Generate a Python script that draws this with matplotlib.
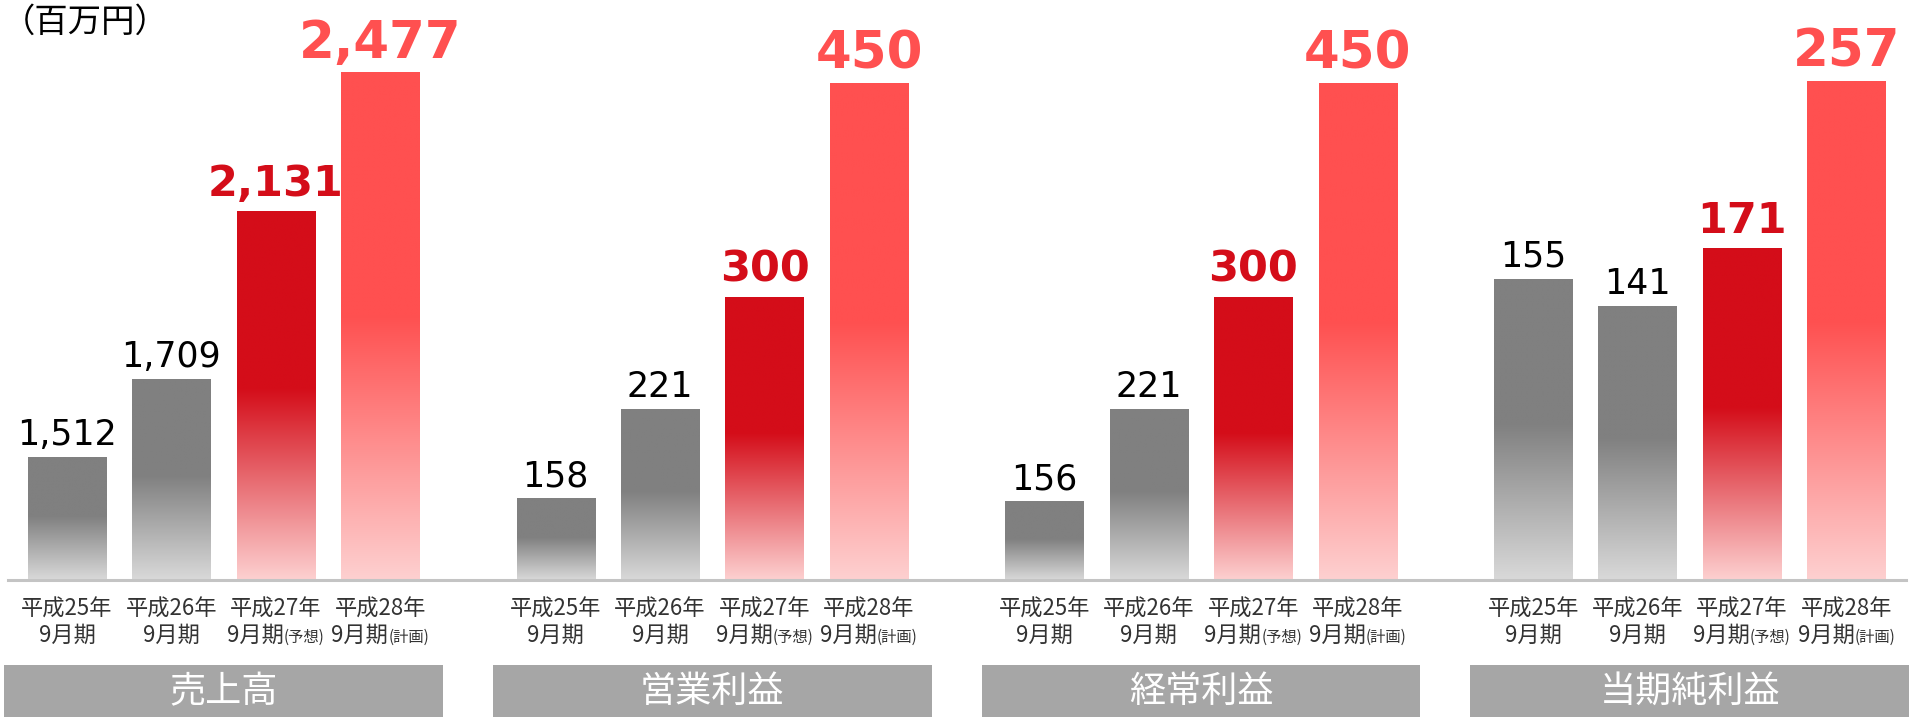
import numpy as np
import matplotlib.pyplot as plt
import matplotlib.transforms as mtransforms
from matplotlib.colors import to_rgb
from matplotlib.lines import Line2D
from matplotlib.patches import Rectangle
from matplotlib.offsetbox import TextArea, HPacker, VPacker, AnnotationBbox

plt.rcParams['font.family'] = ['Noto Sans CJK JP', 'DejaVu Sans']

# データ
metrics = ['売上高', '営業利益', '経常利益', '当期純利益']
periods = ['平成25年', '平成26年', '平成27年', '平成28年']
period_sub = '9月期'
period_notes = ['', '', '(予想)', '(計画)']
sales = [1512, 1709, 2131, 2477]
operating_profit = [158, 221, 300, 450]
ordinary_profit = [156, 221, 300, 450]
net_profit = [155, 141, 171, 257]
series = [sales, operating_profit, ordinary_profit, net_profit]

# 各グループの縦軸範囲 (元の図は0から始まらない)
y_ranges = [(1206, 2660), (101, 509), (101, 509), (0, 299)]

# 色: 実績, 予想, 計画
solid_colors = ['#808080', '#808080', '#d40d19', '#ff5050']
fade_colors = ['#d9d9d9', '#d9d9d9', '#fdd0d0', '#fdd0d0']
label_colors = ['#000000', '#000000', '#d40d19', '#ff5050']

W, H = 1916, 717
base_px = 580
yb = 1 - base_px / H
bar_pitch = 104.5
group_pitch = 488.7
bar_w = 0.75


def gradient(top, bottom, frac=0.52, n=256):
    t = np.linspace(0, 1, n)
    w = np.clip(t / frac, 0, 1)
    top = np.array(to_rgb(top))
    bottom = np.array(to_rgb(bottom))
    c = (1 - w)[:, None] * bottom + w[:, None] * top
    return c[:, None, :]


fig = plt.figure(figsize=(W / 100, H / 100), dpi=100)

for g, vals in enumerate(series):
    left_px = 4.3 + g * group_pitch
    ax = fig.add_axes([left_px / W, yb, 470 / W, base_px / H])
    ax.axis('off')
    lo, hi = y_ranges[g]
    x = np.arange(len(vals))
    bars = ax.bar(x, vals, bar_w, color='none')
    for i, (b, v) in enumerate(zip(bars, vals)):
        ax.imshow(gradient(solid_colors[i], fade_colors[i]),
                  extent=[b.get_x(), b.get_x() + b.get_width(), lo, v],
                  origin='lower', aspect='auto', interpolation='bilinear', zorder=2)
        if i == 0 or i == 1:
            ax.annotate(f'{v:,}', (i, v), xytext=(0, 9), textcoords='offset points',
                        ha='center', va='baseline', fontsize=25, color=label_colors[i],
                        family='DejaVu Sans')
        else:
            fs = 31 if i == 2 else 37
            ax.annotate(f'{v:,}', (i, v), xytext=(0, 11), textcoords='offset points',
                        ha='center', va='baseline', fontsize=fs, fontweight='bold',
                        color=label_colors[i], family='DejaVu Sans')

        # 期間ラベル
        line1 = TextArea(periods[i], textprops=dict(fontsize=16, color='#333333'))
        parts = [TextArea(period_sub, textprops=dict(fontsize=16, color='#333333'))]
        if period_notes[i]:
            parts.append(TextArea(period_notes[i], textprops=dict(fontsize=11, color='#333333')))
        line2 = HPacker(children=parts, align='baseline', pad=0, sep=0)
        box = VPacker(children=[line1, line2], align='center', pad=0, sep=2)
        ab = AnnotationBbox(box, (i, 0), xycoords=('data', 'axes fraction'),
                            xybox=(0, -13), boxcoords='offset points',
                            box_alignment=(0.5, 1), frameon=False, pad=0)
        ax.add_artist(ab)

    ax.set_xlim(-0.6, 3.9)
    ax.set_ylim(lo, hi)

    # 下部の項目名ボックス
    trans = mtransforms.blended_transform_factory(ax.transData, fig.transFigure)
    ax.add_patch(Rectangle((-0.6, 0), 4.2, 52 / H, transform=trans,
                           facecolor='#a6a6a6', edgecolor='none', clip_on=False))
    ax.text(1.5, 25 / H, metrics[g], transform=trans, ha='center', va='center',
            fontsize=26, color='white')

fig.add_artist(Line2D([8 / W, 1906 / W], [yb, yb], color='#c4c4c4', lw=2.2))
fig.text(0.001, 1 - 5 / H, '（百万円）', ha='left', va='top', fontsize=24, color='black')

fig.savefig('out.png', dpi=100)
